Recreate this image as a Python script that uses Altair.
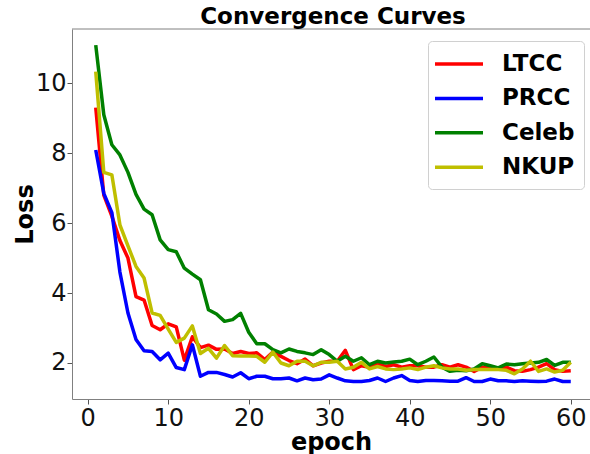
import altair as alt
import pandas as pd

epochs = list(range(1, 61))

ltcc = [9.3, 6.8, 6.2, 5.5, 5.0, 3.9, 3.8, 3.07, 2.95, 3.12,
        3.03, 2.08, 2.75, 2.44, 2.51, 2.39, 2.4, 2.27, 2.33, 2.27,
        2.29, 2.1, 2.31, 2.19, 2.07, 1.98, 2.11, 1.92, 2.0, 2.05,
        2.05, 2.36, 1.81, 1.92, 1.88, 1.98, 1.9, 1.95, 1.88, 1.92,
        1.92, 1.88, 1.88, 1.95, 1.88, 1.95, 1.88, 1.76, 1.88, 1.88,
        1.83, 1.88, 1.78, 1.76, 1.81, 1.88, 1.98, 1.81, 1.76, 1.78]

prcc = [8.09, 6.85, 6.3, 4.6, 3.43, 2.67, 2.35, 2.33, 2.09, 2.28,
        1.87, 1.81, 2.52, 1.62, 1.73, 1.73, 1.67, 1.6, 1.72, 1.55,
        1.62, 1.62, 1.55, 1.55, 1.57, 1.49, 1.57, 1.52, 1.54, 1.66,
        1.57, 1.49, 1.47, 1.47, 1.5, 1.57, 1.47, 1.57, 1.64, 1.5,
        1.47, 1.5, 1.5, 1.49, 1.48, 1.48, 1.58, 1.47, 1.47, 1.54,
        1.49, 1.49, 1.47, 1.49, 1.48, 1.47, 1.48, 1.54, 1.47, 1.47]

celeb = [11.09, 9.1, 8.24, 7.95, 7.45, 6.82, 6.4, 6.24, 5.52, 5.24,
         5.18, 4.71, 4.54, 4.38, 3.52, 3.4, 3.19, 3.24, 3.42, 2.88,
         2.55, 2.55, 2.38, 2.29, 2.4, 2.33, 2.29, 2.24, 2.38, 2.24,
         2.05, 2.19, 2.05, 2.15, 1.95, 2.05, 2.0, 2.03, 2.05, 2.11,
         1.95, 2.05, 2.17, 1.88, 1.76, 1.79, 1.78, 1.83, 1.98, 1.92,
         1.86, 1.97, 1.95, 1.98, 2.0, 2.02, 2.1, 1.93, 2.02, 2.02]

nkup = [10.33, 7.45, 7.38, 5.95, 5.35, 4.76, 4.43, 3.43, 3.36, 2.97,
        2.59, 2.71, 3.06, 2.27, 2.42, 2.14, 2.5, 2.21, 2.2, 2.2,
        2.19, 2.02, 2.31, 2.0, 1.92, 2.05, 2.05, 1.92, 2.02, 2.02,
        2.05, 1.83, 1.88, 2.02, 1.83, 1.9, 1.83, 1.81, 1.83, 1.86,
        1.81, 1.88, 1.92, 1.86, 1.83, 1.83, 1.79, 1.81, 1.81, 1.81,
        1.81, 1.79, 1.69, 1.83, 2.05, 1.76, 1.83, 1.74, 1.79, 2.02]

series_names = ["LTCC", "PRCC", "Celeb", "NKUP"]
series_colors = ["#ff0000", "#0000ff", "#008000", "#bfbf00"]
x_ticks = [0, 10, 20, 30, 40, 50, 60]
y_ticks = [2, 4, 6, 8, 10]

rows = []
for name, vals in zip(series_names, [ltcc, prcc, celeb, nkup]):
    for e, v in zip(epochs, vals):
        rows.append({"epoch": e, "loss": v, "dataset": name, "order": series_names.index(name)})
df = pd.DataFrame(rows)

FONT = "DejaVu Sans"
W, H = 518, 370

lines = alt.Chart(df).mark_line(strokeWidth=3.5, strokeJoin="round", clip=True).encode(
    x=alt.X("epoch:Q",
            scale=alt.Scale(domain=[-1.95, 62.39], nice=False, zero=False),
            axis=alt.Axis(values=x_ticks, title="epoch", grid=False,
                          labelFontSize=24, titleFontSize=24, titleFontWeight="bold",
                          labelFont=FONT, titleFont=FONT, labelColor="#111", titleColor="#000",
                          domainColor="#808080", tickColor="#555", tickSize=5, labelPadding=2,
                          titlePadding=0, labelFlush=False)),
    y=alt.Y("loss:Q",
            scale=alt.Scale(domain=[0.97, 11.55], nice=False, zero=False),
            axis=alt.Axis(values=y_ticks, title="Loss", grid=False,
                          labelFontSize=24, titleFontSize=24, titleFontWeight="bold",
                          labelFont=FONT, titleFont=FONT, labelColor="#111", titleColor="#000",
                          domainColor="#808080", tickColor="#555", tickSize=5, labelPadding=1,
                          titlePadding=-2, labelFlush=False)),
    color=alt.Color("dataset:N",
                    scale=alt.Scale(domain=series_names, range=series_colors),
                    legend=alt.Legend(title=None, orient="none", legendX=356, legendY=12,
                                      symbolType="M-2,0H2", symbolSize=576,
                                      symbolStrokeWidth=3.5, labelFontSize=23,
                                      labelFont=FONT, labelFontWeight="bold", labelColor="#000",
                                      padding=9, symbolOffset=8, labelOffset=29, rowPadding=8.4,
                                      strokeColor="#d0d0d0", fillColor="rgba(255,255,255,0.8)",
                                      cornerRadius=4)),
    order=alt.Order("order:Q"),
    detail="dataset:N",
)

top_line = alt.Chart(pd.DataFrame({"v": [0]})).mark_rule(color="#808080", strokeWidth=1).encode(
    x=alt.value(0), x2=alt.value(W), y=alt.value(0)
)

chart = alt.layer(lines, top_line).properties(
    width=W, height=H,
    title=alt.Title("Convergence Curves", fontSize=23, fontWeight="bold", font=FONT,
                    color="#000", anchor="middle", offset=0, dx=2),
    autosize=alt.AutoSizeParams(type="none"),
    padding={"left": 72, "top": 29, "right": 0, "bottom": 55},
).configure_view(stroke=None)

chart.save("out.html", embed_options={"renderer": "svg", "actions": False})
